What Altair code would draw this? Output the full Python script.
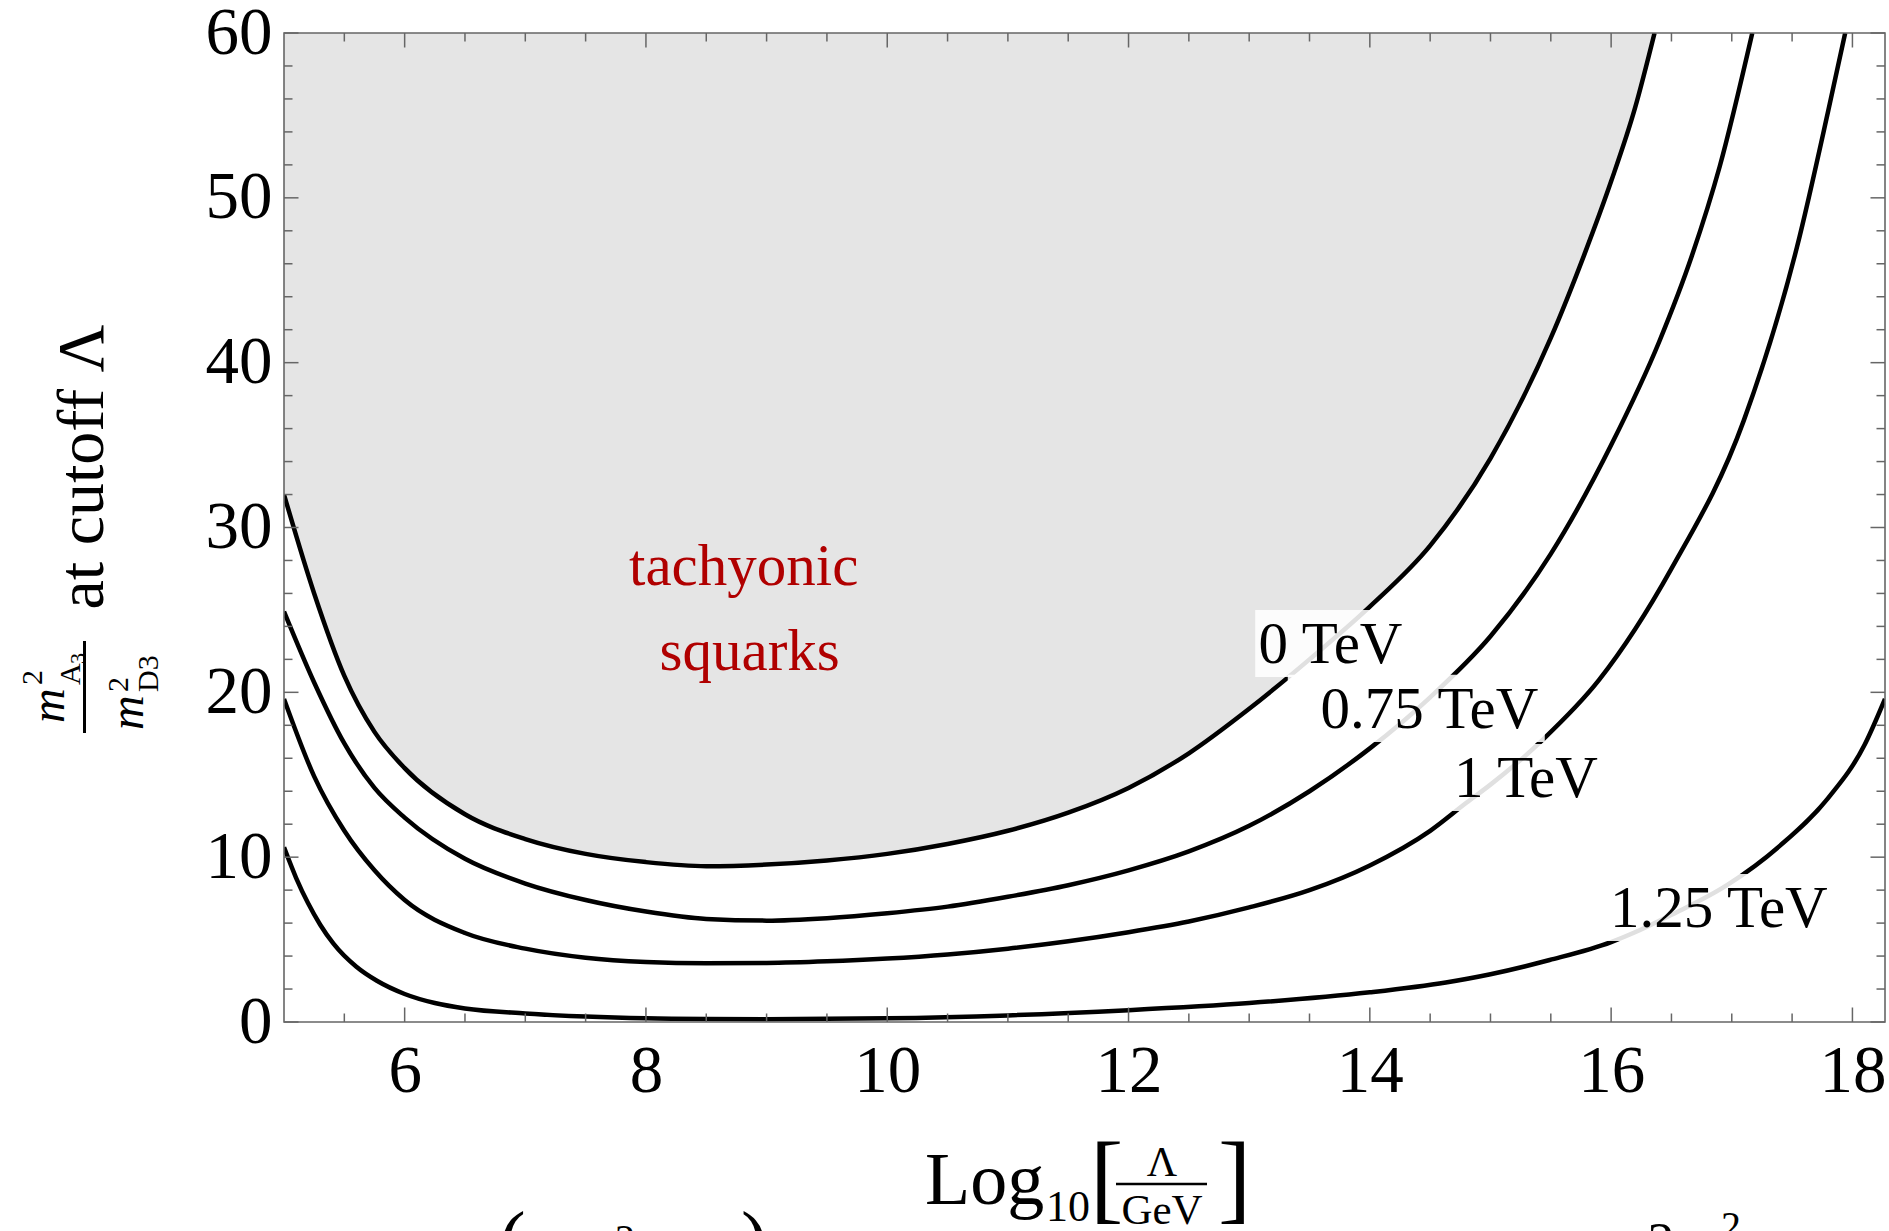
import altair as alt
import pandas as pd

# ---------------- data ----------------
c0_x = [5.0, 5.25, 5.5, 5.75, 6.0, 6.5, 7.0, 7.5, 8.0, 8.5, 9.0, 9.5, 10.0, 10.5, 11.0, 11.5,
        12.0, 12.5, 13.0, 13.5, 14.0, 14.5, 15.0, 15.5, 15.78, 16.0, 16.2, 16.36]
c0_y = [32.0, 26.0, 21.0, 17.6, 15.4, 12.6, 11.1, 10.2, 9.7, 9.45, 9.55, 9.8, 10.2, 10.8, 11.6, 12.7,
        14.2, 16.3, 19.0, 22.0, 25.2, 28.9, 34.2, 41.5, 46.6, 51.0, 55.5, 60.0]

c1_x = [5.0, 5.25, 5.5, 5.75, 6.0, 6.5, 7.0, 7.5, 8.0, 8.5, 9.0, 9.5, 10.0, 10.5, 11.0, 11.5,
        12.0, 12.5, 13.0, 13.5, 14.0, 14.5, 15.0, 15.5, 16.0, 16.4, 16.67, 16.9, 17.17]
c1_y = [24.9, 20.6, 16.9, 14.2, 12.4, 9.9, 8.4, 7.4, 6.7, 6.25, 6.15, 6.3, 6.6, 7.0, 7.6, 8.3,
        9.2, 10.35, 11.9, 14.0, 16.6, 19.7, 23.4, 28.4, 35.0, 41.3, 46.5, 51.9, 60.0]

c2_x = [5.0, 5.25, 5.5, 5.75, 6.0, 6.5, 7.0, 7.5, 8.0, 8.5, 9.0, 9.5, 10.0, 10.5, 11.0, 11.5,
        12.0, 12.5, 13.0, 13.5, 14.0, 14.5, 14.8, 15.0, 15.43, 15.9, 16.5, 17.1, 17.54, 17.8, 17.94]
c2_y = [19.6, 14.9, 11.6, 9.2, 7.4, 5.4, 4.45, 3.9, 3.64, 3.56, 3.58, 3.68, 3.85, 4.1, 4.45, 4.9,
        5.45, 6.1, 6.95, 8.0, 9.5, 11.6, 13.3, 14.4, 17.1, 20.75, 27.5, 36.5, 47.0, 55.3, 60.0]

c3_x = [5.0, 5.1, 5.2, 5.3, 5.41, 5.6, 5.77, 6.0, 6.25, 6.5, 7.0, 7.5, 8.0, 8.5, 9.0, 10.0, 11.0,
        12.0, 13.0, 14.0, 14.63, 15.0, 15.49, 16.0, 16.24, 16.5, 16.96, 17.4, 17.8, 18.1, 18.27]
c3_y = [10.6, 8.75, 7.2, 5.9, 4.75, 3.35, 2.5, 1.7, 1.15, 0.82, 0.52, 0.33, 0.22, 0.18, 0.17, 0.22, 0.4,
        0.72, 1.15, 1.8, 2.4, 2.9, 3.76, 4.85, 5.58, 6.5, 8.3, 10.7, 13.6, 16.8, 19.6]

curve_names = ["0 TeV", "0.75 TeV", "1 TeV", "1.25 TeV"]
label_x = [13.674, 14.494, 15.294, 16.893]
label_y = [21.78, 17.84, 13.62, 5.76]
box_x1 = [13.05, 13.32, 14.16, 15.96]
box_x2 = [14.33, 15.45, 15.91, 17.82]
box_y1 = [20.93, 16.99, 12.80, 4.92]
box_y2 = [25.0, 21.06, 16.87, 8.98]

region_text = ["tachyonic", "squarks"]
region_x = [8.81, 8.86]
region_y = [26.52, 21.36]

x_labels = [6, 8, 10, 12, 14, 16, 18]
y_labels = [0, 10, 20, 30, 40, 50, 60]
x_minor = [v / 2 for v in range(11, 37) if (v / 2) not in x_labels]
y_minor = [v for v in range(2, 60, 2) if v not in y_labels]

# ---------------- build ----------------
W, H = 1601, 989
FONT = "Liberation Serif"
AX = "#666666"
INTERP = "monotone"

xs = alt.Scale(domain=[5, 18.27], nice=False, zero=False)
ys = alt.Scale(domain=[0, 60], nice=False, zero=False)

xaxis = alt.Axis(values=x_labels, title=None, ticks=False, domain=False, grid=False,
                 labelFont=FONT, labelFontSize=67, labelColor="black", labelPadding=16,
                 labelFlush=False, zindex=1)
yaxis = alt.Axis(values=y_labels, title=None, ticks=False, domain=False, grid=False,
                 labelFont=FONT, labelFontSize=67, labelColor="black", labelPadding=12,
                 labelFlush=False, zindex=1)

rows = []
for name, xx, yy in zip(curve_names, [c0_x, c1_x, c2_x, c3_x], [c0_y, c1_y, c2_y, c3_y]):
    for a, b in zip(xx, yy):
        rows.append({"curve": name, "x": a, "y": b})
curves = pd.DataFrame(rows)
df0 = pd.DataFrame({"x": c0_x, "y": c0_y})

labels = pd.DataFrame({"text": curve_names, "x": label_x, "y": label_y,
                       "x1": box_x1, "x2": box_x2, "y1": box_y1, "y2": box_y2})
region = pd.DataFrame({"text": region_text, "x": region_x, "y": region_y})

X = lambda f="x": alt.X(f"{f}:Q", scale=xs, axis=xaxis)
Y = lambda f="y": alt.Y(f"{f}:Q", scale=ys, axis=yaxis)

area = alt.Chart(df0).mark_area(color="#E5E5E5", interpolate=INTERP, clip=True).encode(
    x=X(), y=Y(), y2=alt.datum(60))

lines = alt.Chart(curves).mark_line(color="black", strokeWidth=4.5, interpolate=INTERP,
                                    clip=True).encode(x=X(), y=Y(), detail="curve:N")

boxes = alt.Chart(labels).mark_rect(color="white", opacity=0.88).encode(
    x=X("x1"), x2="x2:Q", y=Y("y1"), y2="y2:Q")

ltext = alt.Chart(labels).mark_text(font=FONT, fontSize=59, color="black", align="center",
                                    baseline="alphabetic").encode(x=X(), y=Y(), text="text:N")

rtext = alt.Chart(region).mark_text(font=FONT, fontSize=59, color="#B00000", align="center",
                                    baseline="alphabetic").encode(x=X(), y=Y(), text="text:N")


def ticks(vals, horizontal, length):
    d = pd.DataFrame({"x": vals, "y": vals})
    out = []
    if horizontal:  # x ticks on bottom and top
        for a, b in [(H, H - length), (0, length)]:
            out.append(alt.Chart(d).mark_rule(color=AX, strokeWidth=1.5).encode(
                x=X(), y=alt.value(a), y2=alt.value(b)))
    else:
        for a, b in [(0, length), (W, W - length)]:
            out.append(alt.Chart(d).mark_rule(color=AX, strokeWidth=1.5).encode(
                y=Y(), x=alt.value(a), x2=alt.value(b)))
    return out


tick_layers = (ticks(x_labels, True, 14.5) + ticks(x_minor, True, 8.5)
               + ticks(y_labels, False, 14.5) + ticks(y_minor, False, 8.5))

one = pd.DataFrame({"k": [0]})
frame = alt.Chart(one).mark_rect(fillOpacity=0, stroke=AX, strokeWidth=1.6).encode(
    x=alt.value(0), x2=alt.value(W), y=alt.value(0), y2=alt.value(H))


def ptext(txt, px, py, size, angle=None, align="left", style="normal"):
    kw = dict(text=txt, font=FONT, fontSize=size, align=align, baseline="alphabetic",
              color="black", fontStyle=style)
    if angle is not None:
        kw["angle"] = angle
    return alt.Chart(one).mark_text(**kw).encode(x=alt.value(px), y=alt.value(py))


def prule(x1, y1, x2, y2, w):
    return alt.Chart(one).mark_rule(color="black", strokeWidth=w).encode(
        x=alt.value(x1), y=alt.value(y1), x2=alt.value(x2), y2=alt.value(y2))


annot = [
    # y title
    ptext("at cutoff Λ", -181, 434, 66, angle=270, align="center"),
    ptext("m", -220, 690, 48, angle=270, style="italic"),
    ptext("2", -242, 652, 30, angle=270),
    ptext("A", -204, 652, 30, angle=270),
    ptext("3", -199, 631, 22, angle=270),
    prule(-199.5, 608, -199.5, 700, 3),
    ptext("m", -141, 697, 48, angle=270, style="italic"),
    ptext("2", -156, 659, 30, angle=270),
    ptext("D3", -126, 659, 30, angle=270),
    # x title
    ptext("Log", 641, 1171, 74),
    ptext("10", 762, 1188, 44),
    ptext("[", 806, 1178, 100),
    ptext("Λ", 878, 1143, 42, align="center"),
    prule(832, 1151, 923, 1151, 2.5),
    ptext("GeV", 878, 1191, 43, align="center"),
    ptext("]", 934, 1178, 100),
    # fragments of text below the figure
    ptext("(", 215, 1234, 80),
    ptext("2", 341, 1219, 40, align="center"),
    ptext(")", 457, 1234, 80),
    ptext("2", 1377, 1227, 54, align="center"),
    ptext("2", 1447, 1206, 40, align="center"),
]

chart = alt.layer(area, lines, boxes, ltext, rtext, *tick_layers, frame, *annot).properties(
    width=W, height=H,
    autosize=alt.AutoSizeParams(type="none"),
    padding={"left": 284, "top": 33, "right": 4, "bottom": 209},
    background="white",
).configure_view(strokeWidth=0)

chart.save("out.html", embed_options={"renderer": "svg", "actions": False})
